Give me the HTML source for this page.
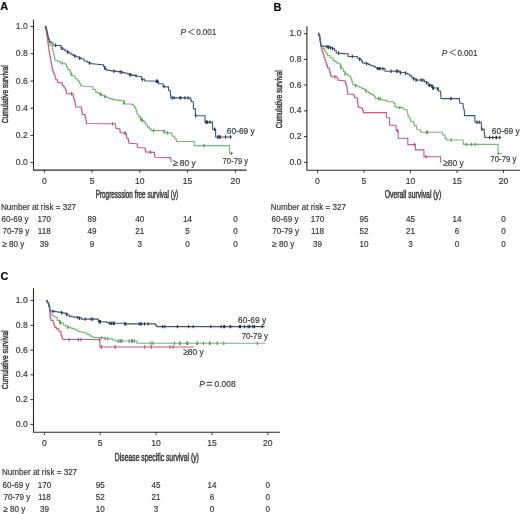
<!DOCTYPE html>
<html><head><meta charset="utf-8"><style>
html,body{margin:0;padding:0;background:#fff;width:520px;height:514px;overflow:hidden}
svg{display:block;filter:blur(0.45px)}
text{font-family:"Liberation Sans", sans-serif;stroke:#333;stroke-width:0.15px}
</style></head><body>
<svg width="520" height="514" viewBox="0 0 520 514">
<rect width="520" height="514" fill="#fff"/>
<path d="M33.5 19.5V170.1H246.5" stroke="#2b2b2b" stroke-width="1.1" fill="none"/>
<path d="M30.5 26.6H33.5" stroke="#2b2b2b" stroke-width="1" />
<text transform="translate(27.80 29.10) scale(1 1.12)" font-size="8.6" text-anchor="end" fill="#333">1.0</text>
<path d="M30.5 53.8H33.5" stroke="#2b2b2b" stroke-width="1" />
<text transform="translate(27.80 56.30) scale(1 1.12)" font-size="8.6" text-anchor="end" fill="#333">0.8</text>
<path d="M30.5 81.0H33.5" stroke="#2b2b2b" stroke-width="1" />
<text transform="translate(27.80 83.50) scale(1 1.12)" font-size="8.6" text-anchor="end" fill="#333">0.6</text>
<path d="M30.5 108.2H33.5" stroke="#2b2b2b" stroke-width="1" />
<text transform="translate(27.80 110.70) scale(1 1.12)" font-size="8.6" text-anchor="end" fill="#333">0.4</text>
<path d="M30.5 135.4H33.5" stroke="#2b2b2b" stroke-width="1" />
<text transform="translate(27.80 137.90) scale(1 1.12)" font-size="8.6" text-anchor="end" fill="#333">0.2</text>
<path d="M30.5 162.6H33.5" stroke="#2b2b2b" stroke-width="1" />
<text transform="translate(27.80 165.10) scale(1 1.12)" font-size="8.6" text-anchor="end" fill="#333">0.0</text>
<path d="M44.3 170.1V172.7" stroke="#2b2b2b" stroke-width="1" />
<text transform="translate(44.30 183.90) scale(1 1.12)" font-size="8.6" text-anchor="middle" fill="#333">0</text>
<path d="M92.07 170.1V172.7" stroke="#2b2b2b" stroke-width="1" />
<text transform="translate(92.07 183.90) scale(1 1.12)" font-size="8.6" text-anchor="middle" fill="#333">5</text>
<path d="M139.84 170.1V172.7" stroke="#2b2b2b" stroke-width="1" />
<text transform="translate(139.84 183.90) scale(1 1.12)" font-size="8.6" text-anchor="middle" fill="#333">10</text>
<path d="M187.61 170.1V172.7" stroke="#2b2b2b" stroke-width="1" />
<text transform="translate(187.61 183.90) scale(1 1.12)" font-size="8.6" text-anchor="middle" fill="#333">15</text>
<path d="M235.38 170.1V172.7" stroke="#2b2b2b" stroke-width="1" />
<text transform="translate(235.38 183.90) scale(1 1.12)" font-size="8.6" text-anchor="middle" fill="#333">20</text>
<text transform="translate(8.2 94.3) rotate(-90)" x="0" y="0" font-size="9.6" text-anchor="middle" textLength="58" lengthAdjust="spacingAndGlyphs" fill="#333" style="stroke-width:0.45px">Cumulative survival</text>
<text x="95.7" y="197.8" font-size="10" textLength="82.5" lengthAdjust="spacingAndGlyphs" fill="#333" style="stroke-width:0.45px">Progresssion free survival (y)</text>
<text x="0.2" y="10.4" font-size="11" font-weight="bold" fill="#000">A</text>
<path d="M44.80 26.50 L46.00 26.50 L46.00 29.00 L46.75 29.00 L46.75 31.30 L47.50 31.30 L47.50 33.60 L47.67 33.60 L47.67 35.83 L47.85 35.83 L47.85 38.05 L48.03 38.05 L48.03 40.27 L48.20 40.27 L48.20 42.50 L50.00 42.50 L50.00 45.50 L52.30 45.50 L52.30 48.60 L52.90 48.60 L52.90 51.30 L53.50 51.30 L53.50 54.00 L54.00 54.00 L54.00 56.07 L54.50 56.07 L54.50 58.13 L55.00 58.13 L55.00 60.20 L57.50 60.20 L57.50 61.50 L60.40 61.50 L60.40 62.90 L63.60 63.20 L65.20 63.20 L65.20 64.30 L66.50 64.30 L66.50 66.95 L67.80 66.95 L67.80 69.60 L70.00 69.60 L70.00 72.00 L71.05 72.00 L71.05 74.00 L72.10 74.00 L72.10 76.00 L75.00 76.00 L75.00 78.50 L76.75 78.50 L76.75 79.95 L78.50 79.95 L78.50 81.40 L79.60 81.40 L79.60 83.55 L80.70 83.55 L80.70 85.70 L85.00 86.30 L90.30 86.80 L93.00 86.80 L93.00 89.50 L95.70 89.50 L95.70 92.10 L97.83 92.10 L97.83 93.17 L99.97 93.17 L99.97 94.23 L102.10 94.23 L102.10 95.30 L104.25 95.30 L104.25 96.40 L106.40 96.40 L106.40 97.50 L108.53 97.50 L108.53 98.20 L110.67 98.20 L110.67 98.90 L112.80 98.90 L112.80 99.60 L114.95 99.60 L114.95 99.88 L117.10 99.88 L117.10 100.15 L119.25 100.15 L119.25 100.42 L121.40 100.42 L121.40 100.70 L124.60 100.70 L124.60 103.90 L130.00 104.00 L131.75 104.00 L131.75 104.75 L133.50 104.75 L133.50 105.50 L134.50 105.50 L134.50 107.25 L135.50 107.25 L135.50 109.00 L136.25 109.00 L136.25 111.65 L137.00 111.65 L137.00 114.30 L138.75 114.30 L138.75 116.60 L140.50 116.60 L140.50 118.90 L142.25 118.90 L142.25 120.65 L144.00 120.65 L144.00 122.40 L145.75 122.40 L145.75 124.75 L147.50 124.75 L147.50 127.10 L149.25 127.10 L149.25 128.85 L151.00 128.85 L151.00 130.60 L163.00 130.60 L164.80 130.60 L164.80 132.90 L171.10 132.90 L171.70 132.90 L171.70 134.60 L172.30 134.60 L172.30 136.30 L174.60 136.30 L174.60 138.70 L176.30 138.70 L176.30 141.50 L194.20 141.50 L194.20 145.60 L229.50 145.60 L229.50 153.40 L233.30 153.40" stroke="#76b676" stroke-width="1.1" fill="none" stroke-linejoin="miter"/>
<path d="M62.3 61.4V64.8M71.3 72.7V76.1M100.3 92.7V96.1M100.9 93.0V96.4M104.6 94.9V98.3M123.6 101.2V104.6M140.9 117.6V121.0M141.9 118.6V122.0M153.6 128.9V132.3M163.9 130.0V133.4M167.6 131.2V134.6M203.9 143.9V147.3M204.0 143.9V147.3M231.3 151.7V155.1" stroke="#5f8f5f" stroke-width="1.1" fill="none"/>
<path d="M44.80 26.50 L45.40 26.50 L45.40 28.25 L46.00 28.25 L46.00 30.00 L46.30 30.00 L46.30 32.00 L46.60 32.00 L46.60 34.00 L46.90 34.00 L46.90 36.00 L47.20 36.00 L47.20 38.00 L47.50 38.00 L47.50 40.00 L47.82 40.00 L47.82 42.32 L48.14 42.32 L48.14 44.64 L48.46 44.64 L48.46 46.96 L48.78 46.96 L48.78 49.28 L49.10 49.28 L49.10 51.60 L49.52 51.60 L49.52 54.08 L49.95 54.08 L49.95 56.55 L50.38 56.55 L50.38 59.02 L50.80 59.02 L50.80 61.50 L51.22 61.50 L51.22 63.77 L51.65 63.77 L51.65 66.05 L52.08 66.05 L52.08 68.32 L52.50 68.32 L52.50 70.60 L53.30 70.60 L53.30 72.70 L54.10 72.70 L54.10 74.80 L54.95 74.80 L54.95 77.25 L55.80 77.25 L55.80 79.70 L57.40 79.70 L57.40 82.20 L59.05 82.20 L59.05 82.60 L60.70 82.60 L60.70 83.00 L62.40 83.00 L62.40 85.50 L64.00 85.50 L64.00 88.00 L65.70 88.00 L65.70 89.70 L66.10 89.70 L66.10 91.75 L66.50 91.75 L66.50 93.80 L72.30 93.80 L73.10 93.80 L73.10 96.30 L73.67 96.30 L73.67 98.23 L74.23 98.23 L74.23 100.17 L74.80 100.17 L74.80 102.10 L75.20 102.10 L75.20 104.55 L75.60 104.55 L75.60 107.00 L80.60 107.00 L81.40 107.00 L81.40 109.50 L81.85 109.50 L81.85 112.00 L82.30 112.00 L82.30 114.50 L84.70 114.50 L84.70 115.30 L85.27 115.30 L85.27 117.80 L85.83 117.80 L85.83 120.30 L86.40 120.30 L86.40 122.80 L86.40 123.50 L112.30 123.80 L115.50 123.80 L115.50 124.50 L115.90 128.30 L119.50 128.80 L119.85 128.80 L119.85 130.70 L120.20 130.70 L120.20 132.60 L126.00 133.20 L126.35 133.20 L126.35 135.70 L126.70 135.70 L126.70 138.20 L128.10 138.20 L128.10 139.60 L128.50 139.60 L128.50 141.45 L128.90 141.45 L128.90 143.30 L136.80 143.70 L137.15 143.70 L137.15 145.65 L137.50 145.65 L137.50 147.60 L144.70 148.00 L145.10 148.00 L145.10 149.95 L145.50 149.95 L145.50 151.90 L154.10 152.40 L154.45 152.40 L154.45 154.80 L154.80 154.80 L154.80 157.20 L170.70 157.60 L171.20 162.30" stroke="#c85a7a" stroke-width="1.1" fill="none" stroke-linejoin="miter"/>
<path d="M71.6 92.1V95.5M112.5 122.2V125.6M124.8 131.4V134.8M125.3 131.4V134.8M150.5 150.5V153.9" stroke="#a05068" stroke-width="1.1" fill="none"/>
<path d="M44.80 26.50 L46.00 26.50 L46.00 28.50 L46.50 28.50 L46.50 30.75 L47.00 30.75 L47.00 33.00 L47.50 33.00 L47.50 35.00 L48.00 35.00 L48.00 37.00 L48.50 37.00 L48.50 39.00 L49.50 39.00 L49.50 41.50 L51.00 41.50 L51.00 43.00 L53.00 43.00 L53.00 45.00 L58.00 45.50 L61.00 45.50 L61.00 48.00 L63.00 48.00 L63.00 49.35 L65.00 49.35 L65.00 50.70 L67.00 50.70 L67.00 51.85 L69.00 51.85 L69.00 53.00 L71.00 53.00 L71.00 54.20 L73.00 54.20 L73.00 55.40 L75.00 55.40 L75.00 56.20 L77.00 56.20 L77.00 57.00 L79.00 57.00 L79.00 57.90 L81.00 57.90 L81.00 58.80 L84.00 58.80 L84.00 61.00 L87.00 61.00 L87.00 62.20 L89.00 62.20 L89.00 62.95 L91.00 62.95 L91.00 63.70 L93.45 63.70 L93.45 63.95 L95.90 63.95 L95.90 64.20 L98.35 64.20 L98.35 64.45 L100.80 64.45 L100.80 64.70 L103.50 64.70 L103.50 66.40 L104.85 66.40 L104.85 68.25 L106.20 68.25 L106.20 70.10 L108.85 70.10 L108.85 70.50 L111.50 70.50 L111.50 70.90 L113.53 70.90 L113.53 71.12 L115.55 71.12 L115.55 71.35 L117.57 71.35 L117.57 71.58 L119.60 71.58 L119.60 71.80 L122.30 71.80 L122.30 72.50 L125.00 72.50 L125.00 73.20 L127.70 73.20 L127.70 74.05 L130.40 74.05 L130.40 74.90 L133.10 74.90 L133.10 75.40 L135.80 75.40 L135.80 75.90 L139.80 76.50 L141.50 76.50 L141.50 79.20 L144.60 79.20 L144.60 80.80 L157.70 81.20 L158.50 81.20 L158.50 83.80 L161.50 83.80 L163.10 83.80 L163.10 86.50 L167.30 86.90 L168.50 86.90 L168.50 90.00 L170.00 90.40 L170.27 90.40 L170.27 92.90 L170.53 92.90 L170.53 95.40 L170.80 95.40 L170.80 97.90 L189.60 97.90 L190.40 97.90 L190.40 99.65 L191.20 99.65 L191.20 101.40 L193.40 102.00 L193.40 108.90 L195.40 108.90 L195.40 115.70 L205.00 115.70 L205.00 122.10 L212.50 122.10 L212.50 129.30 L215.60 129.30 L215.60 137.00 L232.20 137.00" stroke="#3d5583" stroke-width="1.1" fill="none" stroke-linejoin="miter"/>
<path d="M55.6 43.6V47.0M61.7 46.7V50.1M67.7 50.6V54.0M74.7 54.4V57.8M79.7 56.5V59.9M89.5 61.4V64.8M104.8 66.5V69.9M104.8 66.5V69.9M113.9 69.5V72.9M120.2 70.3V73.7M121.9 70.7V74.1M129.4 72.9V76.3M130.9 73.3V76.7M136.0 74.2V77.6M142.3 77.9V81.3M156.3 79.5V82.9M156.5 79.5V82.9M157.6 79.5V82.9M164.0 84.9V88.3M172.2 96.2V99.6M172.2 96.2V99.6M174.1 96.2V99.6M180.0 96.2V99.6M180.8 96.2V99.6M184.9 96.2V99.6M188.0 96.2V99.6M195.8 114.0V117.4M205.9 120.4V123.8M206.6 120.4V123.8M207.5 120.4V123.8M209.9 120.4V123.8M210.0 120.4V123.8M214.6 127.6V131.0M214.7 127.6V131.0M217.6 135.3V138.7M219.1 135.3V138.7M220.3 135.3V138.7M225.6 135.3V138.7M225.7 135.3V138.7M230.4 135.3V138.7" stroke="#26344f" stroke-width="1.1" fill="none"/>
<text transform="translate(226.80 133.80) scale(1 1.12)" font-size="8.4" text-anchor="start" fill="#333">60-69 y</text>
<text transform="translate(222.60 163.60) scale(1 1.12)" font-size="8.4" text-anchor="start" fill="#333" textLength="25.6" lengthAdjust="spacingAndGlyphs">70-79 y</text>
<text transform="translate(172.90 165.80) scale(1 1.12)" font-size="8.4" text-anchor="start" fill="#333">≥ 80 y</text>
<text x="180.6" y="35" font-size="8.4" font-style="italic" fill="#333">P</text>
<path d="M194.6 29.0L188.5 31.9L194.6 34.8" stroke="#333" stroke-width="0.8" fill="none"/>
<text x="196.2" y="35" font-size="8.4" fill="#333" textLength="20" lengthAdjust="spacingAndGlyphs">0.001</text>
<text transform="translate(0.90 210.20) scale(1 1.12)" font-size="8.1" text-anchor="start" fill="#333">Number at risk = 327</text>
<text transform="translate(1.50 222.30) scale(1 1.12)" font-size="8.1" text-anchor="start" fill="#333">60-69 y</text>
<text transform="translate(44.30 222.30) scale(1 1.12)" font-size="8.1" text-anchor="middle" fill="#333">170</text>
<text transform="translate(92.07 222.30) scale(1 1.12)" font-size="8.1" text-anchor="middle" fill="#333">89</text>
<text transform="translate(139.84 222.30) scale(1 1.12)" font-size="8.1" text-anchor="middle" fill="#333">40</text>
<text transform="translate(187.61 222.30) scale(1 1.12)" font-size="8.1" text-anchor="middle" fill="#333">14</text>
<text transform="translate(235.38 222.30) scale(1 1.12)" font-size="8.1" text-anchor="middle" fill="#333">0</text>
<text transform="translate(2.40 234.40) scale(1 1.12)" font-size="8.1" text-anchor="start" fill="#333">70-79 y</text>
<text transform="translate(44.30 234.40) scale(1 1.12)" font-size="8.1" text-anchor="middle" fill="#333">118</text>
<text transform="translate(92.07 234.40) scale(1 1.12)" font-size="8.1" text-anchor="middle" fill="#333">49</text>
<text transform="translate(139.84 234.40) scale(1 1.12)" font-size="8.1" text-anchor="middle" fill="#333">21</text>
<text transform="translate(187.61 234.40) scale(1 1.12)" font-size="8.1" text-anchor="middle" fill="#333">5</text>
<text transform="translate(235.38 234.40) scale(1 1.12)" font-size="8.1" text-anchor="middle" fill="#333">0</text>
<text transform="translate(2.40 246.50) scale(1 1.12)" font-size="8.1" text-anchor="start" fill="#333">≥ 80 y</text>
<text transform="translate(44.30 246.50) scale(1 1.12)" font-size="8.1" text-anchor="middle" fill="#333">39</text>
<text transform="translate(92.07 246.50) scale(1 1.12)" font-size="8.1" text-anchor="middle" fill="#333">9</text>
<text transform="translate(139.84 246.50) scale(1 1.12)" font-size="8.1" text-anchor="middle" fill="#333">3</text>
<text transform="translate(187.61 246.50) scale(1 1.12)" font-size="8.1" text-anchor="middle" fill="#333">0</text>
<text transform="translate(235.38 246.50) scale(1 1.12)" font-size="8.1" text-anchor="middle" fill="#333">0</text>
<path d="M306.9 26.2V170.2H520" stroke="#2b2b2b" stroke-width="1.1" fill="none"/>
<path d="M303.9 33.7H306.9" stroke="#2b2b2b" stroke-width="1" />
<text transform="translate(301.50 36.20) scale(1 1.12)" font-size="8.6" text-anchor="end" fill="#333">1.0</text>
<path d="M303.9 59.4H306.9" stroke="#2b2b2b" stroke-width="1" />
<text transform="translate(301.50 61.90) scale(1 1.12)" font-size="8.6" text-anchor="end" fill="#333">0.8</text>
<path d="M303.9 85.0H306.9" stroke="#2b2b2b" stroke-width="1" />
<text transform="translate(301.50 87.50) scale(1 1.12)" font-size="8.6" text-anchor="end" fill="#333">0.6</text>
<path d="M303.9 110.8H306.9" stroke="#2b2b2b" stroke-width="1" />
<text transform="translate(301.50 113.30) scale(1 1.12)" font-size="8.6" text-anchor="end" fill="#333">0.4</text>
<path d="M303.9 136.6H306.9" stroke="#2b2b2b" stroke-width="1" />
<text transform="translate(301.50 139.10) scale(1 1.12)" font-size="8.6" text-anchor="end" fill="#333">0.2</text>
<path d="M303.9 162.4H306.9" stroke="#2b2b2b" stroke-width="1" />
<text transform="translate(301.50 164.90) scale(1 1.12)" font-size="8.6" text-anchor="end" fill="#333">0.0</text>
<path d="M317.5 170.2V172.79999999999998" stroke="#2b2b2b" stroke-width="1" />
<text transform="translate(317.50 183.50) scale(1 1.12)" font-size="8.6" text-anchor="middle" fill="#333">0</text>
<path d="M364.0 170.2V172.79999999999998" stroke="#2b2b2b" stroke-width="1" />
<text transform="translate(364.00 183.50) scale(1 1.12)" font-size="8.6" text-anchor="middle" fill="#333">5</text>
<path d="M410.5 170.2V172.79999999999998" stroke="#2b2b2b" stroke-width="1" />
<text transform="translate(410.50 183.50) scale(1 1.12)" font-size="8.6" text-anchor="middle" fill="#333">10</text>
<path d="M457.0 170.2V172.79999999999998" stroke="#2b2b2b" stroke-width="1" />
<text transform="translate(457.00 183.50) scale(1 1.12)" font-size="8.6" text-anchor="middle" fill="#333">15</text>
<path d="M503.5 170.2V172.79999999999998" stroke="#2b2b2b" stroke-width="1" />
<text transform="translate(503.50 183.50) scale(1 1.12)" font-size="8.6" text-anchor="middle" fill="#333">20</text>
<text transform="translate(281.6 99.3) rotate(-90)" x="0" y="0" font-size="9.6" text-anchor="middle" textLength="58" lengthAdjust="spacingAndGlyphs" fill="#333" style="stroke-width:0.45px">Cumulative survival</text>
<text x="384.7" y="197.8" font-size="10" textLength="56.6" lengthAdjust="spacingAndGlyphs" fill="#333" style="stroke-width:0.45px">Overall survival (y)</text>
<text x="273.6" y="10.7" font-size="11" font-weight="bold" fill="#000">B</text>
<path d="M317.90 33.40 L318.75 33.40 L318.75 35.35 L319.60 35.35 L319.60 37.30 L319.93 37.30 L319.93 39.47 L320.25 39.47 L320.25 41.65 L320.57 41.65 L320.57 43.83 L320.90 43.83 L320.90 46.00 L323.10 46.00 L323.10 48.60 L324.57 48.60 L324.57 50.93 L326.03 50.93 L326.03 53.27 L327.50 53.27 L327.50 55.60 L330.15 55.60 L330.15 57.80 L332.80 57.80 L332.80 60.00 L334.55 60.00 L334.55 61.35 L336.30 61.35 L336.30 62.70 L338.05 62.70 L338.05 63.55 L339.80 63.55 L339.80 64.40 L340.65 64.40 L340.65 66.60 L341.50 66.60 L341.50 68.80 L343.25 68.80 L343.25 71.40 L345.00 71.40 L345.00 74.00 L347.65 74.00 L347.65 75.75 L350.30 75.75 L350.30 77.50 L351.17 77.50 L351.17 79.83 L352.03 79.83 L352.03 82.17 L352.90 82.17 L352.90 84.50 L354.93 84.50 L354.93 85.40 L356.97 85.40 L356.97 86.30 L359.00 86.30 L359.00 87.20 L361.65 87.20 L361.65 88.50 L364.30 88.50 L364.30 89.80 L366.20 89.80 L366.20 91.23 L368.10 91.23 L368.10 92.67 L370.00 92.67 L370.00 94.10 L372.90 94.10 L372.90 95.10 L374.30 95.10 L374.30 96.50 L375.30 96.50 L375.30 98.50 L378.70 98.50 L380.60 98.50 L380.60 99.20 L382.50 99.20 L382.50 99.90 L385.40 100.40 L386.80 100.40 L386.80 101.80 L392.60 101.80 L393.60 101.80 L393.60 103.30 L395.00 103.30 L395.00 106.60 L396.90 106.60 L396.90 107.60 L400.80 107.60 L403.20 107.60 L403.20 109.00 L406.10 109.50 L406.90 110.00 L407.30 110.00 L407.30 112.10 L407.70 112.10 L407.70 114.20 L408.10 114.20 L408.10 116.30 L409.35 116.30 L409.35 118.80 L410.60 118.80 L410.60 121.30 L413.10 121.30 L413.10 121.90 L413.75 121.90 L413.75 123.75 L414.40 123.75 L414.40 125.60 L416.30 125.60 L416.30 126.30 L416.90 129.40 L420.00 130.00 L420.60 130.00 L420.60 132.30 L441.30 132.30 L442.50 132.30 L442.50 135.00 L445.00 135.00 L445.00 138.10 L446.30 138.10 L446.30 140.00 L463.10 140.00 L463.50 144.40 L498.10 144.40 L498.10 153.50 L501.70 153.50" stroke="#76b676" stroke-width="1.1" fill="none" stroke-linejoin="miter"/>
<path d="M340.8 65.3V68.7M345.0 72.3V75.7M355.6 84.0V87.4M365.9 89.3V92.7M378.4 96.8V100.2M380.0 97.3V100.7M399.8 105.9V109.3M426.7 130.6V134.0M427.5 130.6V134.0M451.3 138.3V141.7M466.1 142.7V146.1M471.4 142.7V146.1M475.2 142.7V146.1M498.3 151.8V155.2" stroke="#5f8f5f" stroke-width="1.1" fill="none"/>
<path d="M317.90 33.40 L318.75 33.40 L318.75 35.35 L319.60 35.35 L319.60 37.30 L319.93 37.30 L319.93 39.47 L320.25 39.47 L320.25 41.65 L320.57 41.65 L320.57 43.83 L320.90 43.83 L320.90 46.00 L321.37 46.00 L321.37 48.03 L321.83 48.03 L321.83 50.07 L322.30 50.07 L322.30 52.10 L323.15 52.10 L323.15 54.75 L324.00 54.75 L324.00 57.40 L324.90 57.40 L324.90 60.05 L325.80 60.05 L325.80 62.70 L326.65 62.70 L326.65 65.30 L327.50 65.30 L327.50 67.90 L329.30 67.90 L329.30 70.50 L329.87 70.50 L329.87 72.57 L330.43 72.57 L330.43 74.63 L331.00 74.63 L331.00 76.70 L336.30 76.70 L337.15 76.70 L337.15 78.45 L338.00 78.45 L338.00 80.20 L340.33 80.20 L340.33 80.47 L342.67 80.47 L342.67 80.73 L345.00 80.73 L345.00 81.00 L345.60 81.00 L345.60 83.33 L346.20 83.33 L346.20 85.67 L346.80 85.67 L346.80 88.00 L347.10 88.00 L347.10 90.07 L347.40 90.07 L347.40 92.13 L347.70 92.13 L347.70 94.20 L352.90 94.20 L353.80 94.20 L353.80 95.95 L354.70 95.95 L354.70 97.70 L357.30 97.70 L357.30 100.30 L357.60 100.30 L357.60 102.63 L357.90 102.63 L357.90 104.97 L358.20 104.97 L358.20 107.30 L359.95 107.30 L359.95 107.75 L361.70 107.75 L361.70 108.20 L362.55 108.20 L362.55 110.40 L363.40 110.40 L363.40 112.60 L386.40 112.60 L386.40 117.80 L389.60 117.80 L389.60 125.30 L396.10 125.30 L396.10 130.70 L398.20 130.70 L398.20 138.20 L407.80 138.20 L407.80 144.60 L415.30 144.60 L415.30 149.90 L423.90 149.90 L423.90 156.80 L440.60 156.80 L440.60 162.40" stroke="#c85a7a" stroke-width="1.1" fill="none" stroke-linejoin="miter"/>
<path d="M334.9 75.0V78.4M334.9 75.0V78.4M397.6 129.0V132.4M414.6 142.9V146.3M426.0 155.1V158.5" stroke="#a05068" stroke-width="1.1" fill="none"/>
<path d="M317.90 33.40 L318.75 33.40 L318.75 35.35 L319.60 35.35 L319.60 37.30 L319.93 37.30 L319.93 39.47 L320.25 39.47 L320.25 41.65 L320.57 41.65 L320.57 43.83 L320.90 43.83 L320.90 46.00 L323.10 46.00 L323.10 46.30 L325.30 46.30 L325.30 46.60 L327.50 46.60 L327.50 46.90 L330.15 46.90 L330.15 47.75 L332.80 47.75 L332.80 48.60 L334.55 48.60 L334.55 50.80 L336.30 50.80 L336.30 53.00 L338.52 53.00 L338.52 53.20 L340.75 53.20 L340.75 53.40 L342.98 53.40 L342.98 53.60 L345.20 53.60 L345.20 53.80 L348.10 53.80 L348.10 56.50 L354.40 56.50 L357.30 56.50 L357.30 58.30 L360.20 58.30 L360.20 59.40 L361.35 59.40 L361.35 61.15 L362.50 61.15 L362.50 62.90 L364.50 62.90 L364.50 63.20 L366.50 63.20 L366.50 63.50 L368.25 63.50 L368.25 64.35 L370.00 64.35 L370.00 65.20 L371.70 65.20 L371.70 65.75 L373.40 65.75 L373.40 66.30 L375.15 66.30 L375.15 67.45 L376.90 67.45 L376.90 68.60 L382.70 68.60 L385.00 68.60 L385.00 71.30 L398.20 71.10 L399.80 71.10 L399.80 72.70 L404.50 72.50 L405.60 72.50 L405.60 73.20 L407.70 73.20 L407.70 74.30 L409.80 74.30 L409.80 75.90 L411.90 75.90 L411.90 78.00 L414.05 78.00 L414.05 79.05 L416.20 79.05 L416.20 80.10 L422.50 80.00 L424.60 80.00 L424.60 81.70 L426.70 81.70 L426.70 82.80 L428.30 82.80 L428.30 85.40 L431.50 85.40 L432.60 85.40 L432.60 88.00 L437.30 88.00 L438.40 88.00 L438.40 90.70 L440.50 91.20 L441.00 98.60 L458.50 98.60 L459.40 98.60 L459.40 100.30 L459.80 103.30 L462.90 103.30 L463.30 106.40 L463.80 109.00 L464.30 110.00 L464.50 115.60 L474.80 115.60 L475.00 122.30 L481.30 122.30 L481.50 129.30 L484.00 129.40 L484.20 129.40 L484.20 131.43 L484.40 131.43 L484.40 133.45 L484.60 133.45 L484.60 135.47 L484.80 135.47 L484.80 137.50 L501.20 137.50" stroke="#3d5583" stroke-width="1.1" fill="none" stroke-linejoin="miter"/>
<path d="M327.0 45.1V48.5M328.5 45.5V48.9M330.5 46.2V49.6M332.4 46.8V50.2M338.5 51.5V54.9M352.3 54.8V58.2M359.5 57.5V60.9M366.6 61.8V65.2M377.7 66.9V70.3M379.2 66.9V70.3M379.9 66.9V70.3M382.9 67.2V70.6M391.1 69.5V72.9M396.4 69.4V72.8M397.7 69.4V72.8M400.5 71.0V74.4M405.6 71.5V74.9M413.4 77.1V80.5M413.7 77.2V80.6M416.0 78.3V81.7M416.2 78.4V81.8M421.0 78.3V81.7M422.9 78.6V82.0M426.5 81.0V84.4M429.2 83.7V87.1M430.0 83.7V87.1M431.8 84.5V87.9M432.8 86.3V89.7M433.5 86.3V89.7M437.7 87.2V90.6M450.7 96.9V100.3M451.1 96.9V100.3M476.9 120.6V124.0M479.2 120.6V124.0M481.9 127.6V131.0M489.6 135.8V139.2M492.8 135.8V139.2M496.1 135.8V139.2M496.6 135.8V139.2M499.7 135.8V139.2" stroke="#26344f" stroke-width="1.1" fill="none"/>
<text transform="translate(491.80 133.80) scale(1 1.12)" font-size="8.4" text-anchor="start" fill="#333">60-69 y</text>
<text transform="translate(490.30 161.90) scale(1 1.12)" font-size="8.4" text-anchor="start" fill="#333" textLength="26.2" lengthAdjust="spacingAndGlyphs">70-79 y</text>
<text transform="translate(443.20 166.20) scale(1 1.12)" font-size="8.4" text-anchor="start" fill="#333">≥80 y</text>
<text x="441.8" y="55.5" font-size="8.4" font-style="italic" fill="#333">P</text>
<path d="M455.8 49.5L449.7 52.4L455.8 55.3" stroke="#333" stroke-width="0.8" fill="none"/>
<text x="457.40000000000003" y="55.5" font-size="8.4" fill="#333" textLength="20" lengthAdjust="spacingAndGlyphs">0.001</text>
<text transform="translate(270.70 210.20) scale(1 1.12)" font-size="8.1" text-anchor="start" fill="#333">Number at risk = 327</text>
<text transform="translate(271.60 222.30) scale(1 1.12)" font-size="8.1" text-anchor="start" fill="#333">60-69 y</text>
<text transform="translate(317.50 222.30) scale(1 1.12)" font-size="8.1" text-anchor="middle" fill="#333">170</text>
<text transform="translate(364.00 222.30) scale(1 1.12)" font-size="8.1" text-anchor="middle" fill="#333">95</text>
<text transform="translate(410.50 222.30) scale(1 1.12)" font-size="8.1" text-anchor="middle" fill="#333">45</text>
<text transform="translate(457.00 222.30) scale(1 1.12)" font-size="8.1" text-anchor="middle" fill="#333">14</text>
<text transform="translate(503.50 222.30) scale(1 1.12)" font-size="8.1" text-anchor="middle" fill="#333">0</text>
<text transform="translate(272.20 234.40) scale(1 1.12)" font-size="8.1" text-anchor="start" fill="#333">70-79 y</text>
<text transform="translate(317.50 234.40) scale(1 1.12)" font-size="8.1" text-anchor="middle" fill="#333">118</text>
<text transform="translate(364.00 234.40) scale(1 1.12)" font-size="8.1" text-anchor="middle" fill="#333">52</text>
<text transform="translate(410.50 234.40) scale(1 1.12)" font-size="8.1" text-anchor="middle" fill="#333">21</text>
<text transform="translate(457.00 234.40) scale(1 1.12)" font-size="8.1" text-anchor="middle" fill="#333">6</text>
<text transform="translate(503.50 234.40) scale(1 1.12)" font-size="8.1" text-anchor="middle" fill="#333">0</text>
<text transform="translate(272.30 246.50) scale(1 1.12)" font-size="8.1" text-anchor="start" fill="#333">≥ 80 y</text>
<text transform="translate(317.50 246.50) scale(1 1.12)" font-size="8.1" text-anchor="middle" fill="#333">39</text>
<text transform="translate(364.00 246.50) scale(1 1.12)" font-size="8.1" text-anchor="middle" fill="#333">10</text>
<text transform="translate(410.50 246.50) scale(1 1.12)" font-size="8.1" text-anchor="middle" fill="#333">3</text>
<text transform="translate(457.00 246.50) scale(1 1.12)" font-size="8.1" text-anchor="middle" fill="#333">0</text>
<text transform="translate(503.50 246.50) scale(1 1.12)" font-size="8.1" text-anchor="middle" fill="#333">0</text>
<path d="M33.5 288.2V432.3H280" stroke="#2b2b2b" stroke-width="1.1" fill="none"/>
<path d="M30.5 300.6H33.5" stroke="#2b2b2b" stroke-width="1" />
<text transform="translate(27.70 303.10) scale(1 1.12)" font-size="8.6" text-anchor="end" fill="#333">1.0</text>
<path d="M30.5 325.35H33.5" stroke="#2b2b2b" stroke-width="1" />
<text transform="translate(27.70 327.85) scale(1 1.12)" font-size="8.6" text-anchor="end" fill="#333">0.8</text>
<path d="M30.5 350.1H33.5" stroke="#2b2b2b" stroke-width="1" />
<text transform="translate(27.70 352.60) scale(1 1.12)" font-size="8.6" text-anchor="end" fill="#333">0.6</text>
<path d="M30.5 374.85H33.5" stroke="#2b2b2b" stroke-width="1" />
<text transform="translate(27.70 377.35) scale(1 1.12)" font-size="8.6" text-anchor="end" fill="#333">0.4</text>
<path d="M30.5 399.6H33.5" stroke="#2b2b2b" stroke-width="1" />
<text transform="translate(27.70 402.10) scale(1 1.12)" font-size="8.6" text-anchor="end" fill="#333">0.2</text>
<path d="M30.5 424.4H33.5" stroke="#2b2b2b" stroke-width="1" />
<text transform="translate(27.70 426.90) scale(1 1.12)" font-size="8.6" text-anchor="end" fill="#333">0.0</text>
<path d="M44.4 432.3V434.90000000000003" stroke="#2b2b2b" stroke-width="1" />
<text transform="translate(44.40 446.10) scale(1 1.12)" font-size="8.6" text-anchor="middle" fill="#333">0</text>
<path d="M100.25 432.3V434.90000000000003" stroke="#2b2b2b" stroke-width="1" />
<text transform="translate(100.25 446.10) scale(1 1.12)" font-size="8.6" text-anchor="middle" fill="#333">5</text>
<path d="M156.1 432.3V434.90000000000003" stroke="#2b2b2b" stroke-width="1" />
<text transform="translate(156.10 446.10) scale(1 1.12)" font-size="8.6" text-anchor="middle" fill="#333">10</text>
<path d="M211.95000000000002 432.3V434.90000000000003" stroke="#2b2b2b" stroke-width="1" />
<text transform="translate(211.95 446.10) scale(1 1.12)" font-size="8.6" text-anchor="middle" fill="#333">15</text>
<path d="M267.8 432.3V434.90000000000003" stroke="#2b2b2b" stroke-width="1" />
<text transform="translate(267.80 446.10) scale(1 1.12)" font-size="8.6" text-anchor="middle" fill="#333">20</text>
<text transform="translate(8.1 359.8) rotate(-90)" x="0" y="0" font-size="9.6" text-anchor="middle" textLength="58.7" lengthAdjust="spacingAndGlyphs" fill="#333" style="stroke-width:0.45px">Cumulative survival</text>
<text x="114.8" y="461.3" font-size="10" textLength="84.1" lengthAdjust="spacingAndGlyphs" fill="#333" style="stroke-width:0.45px">Disease specific survival (y)</text>
<text x="0.6" y="279.9" font-size="11" font-weight="bold" fill="#000">C</text>
<path d="M46.20 300.60 L47.40 300.60 L47.40 302.70 L48.60 302.70 L48.60 304.80 L49.10 304.80 L49.10 306.75 L49.60 306.75 L49.60 308.70 L50.03 308.70 L50.03 310.77 L50.47 310.77 L50.47 312.83 L50.90 312.83 L50.90 314.90 L52.85 314.90 L52.85 316.05 L54.80 316.05 L54.80 317.20 L57.10 317.20 L57.10 320.40 L60.20 320.40 L60.20 322.70 L63.30 322.70 L63.30 325.00 L65.65 325.00 L65.65 326.20 L68.00 326.20 L68.00 327.40 L70.35 327.40 L70.35 328.15 L72.70 328.15 L72.70 328.90 L75.05 328.90 L75.05 330.05 L77.40 330.05 L77.40 331.20 L79.47 331.20 L79.47 331.73 L81.53 331.73 L81.53 332.27 L83.60 332.27 L83.60 332.80 L86.70 332.80 L86.70 334.40 L89.80 334.40 L89.80 335.90 L91.75 335.90 L91.75 336.70 L93.70 336.70 L93.70 337.50 L99.10 337.50 L101.20 337.50 L101.20 337.83 L103.30 337.83 L103.30 338.17 L105.40 338.17 L105.40 338.50 L110.00 338.90 L112.60 338.90 L112.60 339.95 L115.20 339.95 L115.20 341.00 L134.20 341.00 L136.80 341.00 L136.80 343.30 L265.60 343.30" stroke="#76b676" stroke-width="1.1" fill="none" stroke-linejoin="miter"/>
<path d="M59.7 320.6V324.0M60.7 321.3V324.7M67.6 325.5V328.9M67.7 325.6V329.0M101.7 336.2V339.6M105.1 336.8V340.2M107.7 337.0V340.4M118.1 339.3V342.7M120.1 339.3V342.7M120.7 339.3V342.7M122.2 339.3V342.7M129.0 339.3V342.7M131.4 339.3V342.7M132.5 339.3V342.7M134.2 339.3V342.7M150.8 341.6V345.0M152.9 341.6V345.0M174.5 341.6V345.0M179.5 341.6V345.0M180.1 341.6V345.0M186.7 341.6V345.0M187.8 341.6V345.0M197.0 341.6V345.0M197.6 341.6V345.0M203.5 341.6V345.0M209.4 341.6V345.0M210.0 341.6V345.0M217.2 341.6V345.0M223.8 341.6V345.0M257.3 341.6V345.0" stroke="#5f8f5f" stroke-width="1.1" fill="none"/>
<path d="M46.20 300.60 L47.40 300.60 L47.40 302.70 L48.60 302.70 L48.60 304.80 L49.10 304.80 L49.10 306.75 L49.60 306.75 L49.60 308.70 L50.10 316.50 L50.50 316.50 L50.50 318.45 L50.90 318.45 L50.90 320.40 L53.20 320.40 L53.20 322.70 L54.00 322.70 L54.00 325.05 L54.80 325.05 L54.80 327.40 L56.30 327.40 L56.30 328.90 L58.70 328.90 L58.70 331.20 L61.00 331.20 L61.00 332.00 L61.00 335.10 L61.80 335.10 L61.80 337.30 L62.60 337.30 L62.60 339.50 L99.90 339.50 L99.90 347.00 L193.50 347.00" stroke="#c85a7a" stroke-width="1.1" fill="none" stroke-linejoin="miter"/>
<path d="M69.1 337.8V341.2M78.4 337.8V341.2M80.9 337.8V341.2M99.4 337.8V341.2M101.1 345.3V348.7M101.5 345.3V348.7M115.1 345.3V348.7M115.5 345.3V348.7M144.7 345.3V348.7M151.3 345.3V348.7M170.0 345.3V348.7M173.1 345.3V348.7" stroke="#a05068" stroke-width="1.1" fill="none"/>
<path d="M46.20 300.60 L47.40 300.60 L47.40 302.70 L48.60 302.70 L48.60 304.80 L49.10 304.80 L49.10 306.75 L49.60 306.75 L49.60 308.70 L50.10 311.00 L52.85 311.00 L52.85 311.40 L55.60 311.40 L55.60 311.80 L57.90 311.80 L57.90 312.15 L60.20 312.15 L60.20 312.50 L62.80 312.50 L62.80 313.10 L65.40 313.10 L65.40 313.70 L67.40 313.70 L67.40 315.05 L69.40 315.05 L69.40 316.40 L71.75 316.40 L71.75 316.75 L74.10 316.75 L74.10 317.10 L76.45 317.10 L76.45 317.45 L78.80 317.45 L78.80 317.80 L81.50 317.80 L81.50 319.10 L96.30 319.10 L98.40 319.10 L98.40 321.80 L104.40 321.80 L106.45 321.80 L106.45 322.50 L108.50 322.50 L108.50 323.20 L121.90 323.20 L124.60 323.20 L124.60 323.90 L153.40 323.90 L155.80 323.90 L155.80 325.80 L156.90 325.80 L156.90 326.60 L264.60 326.60" stroke="#3d5583" stroke-width="1.1" fill="none" stroke-linejoin="miter"/>
<path d="M53.0 309.7V313.1M61.6 311.1V314.5M66.5 312.7V316.1M77.8 315.9V319.3M79.6 316.5V319.9M85.2 317.4V320.8M91.1 317.4V320.8M92.6 317.4V320.8M99.3 320.1V323.5M99.9 320.1V323.5M100.5 320.1V323.5M109.8 321.5V324.9M111.3 321.5V324.9M113.1 321.5V324.9M113.6 321.5V324.9M114.2 321.5V324.9M124.6 322.2V325.6M125.5 322.2V325.6M125.8 322.2V325.6M139.2 322.2V325.6M140.8 322.2V325.6M141.4 322.2V325.6M144.5 322.2V325.6M148.1 322.2V325.6M162.6 324.9V328.3M164.8 324.9V328.3M177.4 324.9V328.3M188.7 324.9V328.3M193.2 324.9V328.3M210.8 324.9V328.3M221.1 324.9V328.3M223.7 324.9V328.3M223.8 324.9V328.3M223.9 324.9V328.3M224.6 324.9V328.3M230.2 324.9V328.3M230.6 324.9V328.3M239.4 324.9V328.3M240.5 324.9V328.3M244.5 324.9V328.3M248.1 324.9V328.3M249.5 324.9V328.3M252.9 324.9V328.3M254.4 324.9V328.3M262.2 324.9V328.3" stroke="#26344f" stroke-width="1.1" fill="none"/>
<text transform="translate(238.10 323.30) scale(1 1.12)" font-size="8.4" text-anchor="start" fill="#333">60-69 y</text>
<text transform="translate(241.70 339.10) scale(1 1.12)" font-size="8.4" text-anchor="start" fill="#333" textLength="26.2" lengthAdjust="spacingAndGlyphs">70-79 y</text>
<text transform="translate(183.20 354.50) scale(1 1.12)" font-size="8.4" text-anchor="start" fill="#333">≥80 y</text>
<text x="199.2" y="386.8" font-size="8.4" font-style="italic" fill="#333">P</text>
<path d="M206.79999999999998 382.40000000000003h5.4M206.79999999999998 385.2h5.4" stroke="#333" stroke-width="1.0" fill="none"/>
<text x="214.6" y="386.8" font-size="8.4" fill="#333" textLength="21" lengthAdjust="spacingAndGlyphs">0.008</text>
<text transform="translate(1.90 475.40) scale(1 1.12)" font-size="8.1" text-anchor="start" fill="#333">Number at risk = 327</text>
<text transform="translate(2.50 487.50) scale(1 1.12)" font-size="8.1" text-anchor="start" fill="#333">60-69 y</text>
<text transform="translate(44.40 487.50) scale(1 1.12)" font-size="8.1" text-anchor="middle" fill="#333">170</text>
<text transform="translate(100.25 487.50) scale(1 1.12)" font-size="8.1" text-anchor="middle" fill="#333">95</text>
<text transform="translate(156.10 487.50) scale(1 1.12)" font-size="8.1" text-anchor="middle" fill="#333">45</text>
<text transform="translate(211.95 487.50) scale(1 1.12)" font-size="8.1" text-anchor="middle" fill="#333">14</text>
<text transform="translate(267.80 487.50) scale(1 1.12)" font-size="8.1" text-anchor="middle" fill="#333">0</text>
<text transform="translate(3.40 499.60) scale(1 1.12)" font-size="8.1" text-anchor="start" fill="#333">70-79 y</text>
<text transform="translate(44.40 499.60) scale(1 1.12)" font-size="8.1" text-anchor="middle" fill="#333">118</text>
<text transform="translate(100.25 499.60) scale(1 1.12)" font-size="8.1" text-anchor="middle" fill="#333">52</text>
<text transform="translate(156.10 499.60) scale(1 1.12)" font-size="8.1" text-anchor="middle" fill="#333">21</text>
<text transform="translate(211.95 499.60) scale(1 1.12)" font-size="8.1" text-anchor="middle" fill="#333">6</text>
<text transform="translate(267.80 499.60) scale(1 1.12)" font-size="8.1" text-anchor="middle" fill="#333">0</text>
<text transform="translate(3.40 511.70) scale(1 1.12)" font-size="8.1" text-anchor="start" fill="#333">≥ 80 y</text>
<text transform="translate(44.40 511.70) scale(1 1.12)" font-size="8.1" text-anchor="middle" fill="#333">39</text>
<text transform="translate(100.25 511.70) scale(1 1.12)" font-size="8.1" text-anchor="middle" fill="#333">10</text>
<text transform="translate(156.10 511.70) scale(1 1.12)" font-size="8.1" text-anchor="middle" fill="#333">3</text>
<text transform="translate(211.95 511.70) scale(1 1.12)" font-size="8.1" text-anchor="middle" fill="#333">0</text>
<text transform="translate(267.80 511.70) scale(1 1.12)" font-size="8.1" text-anchor="middle" fill="#333">0</text>
</svg></body></html>
